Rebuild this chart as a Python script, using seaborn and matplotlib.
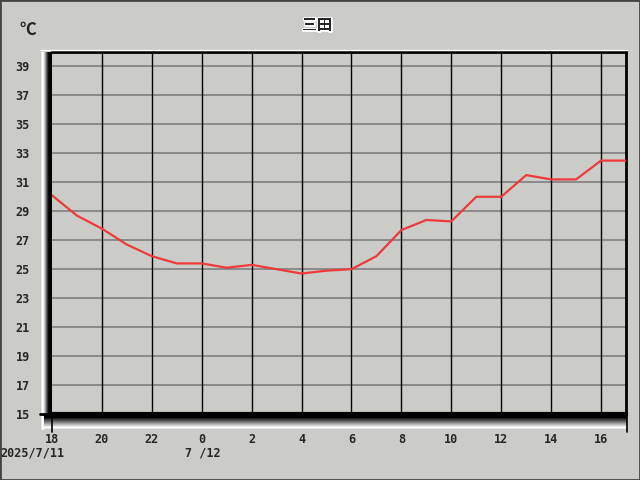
import numpy as np
import pandas as pd
import matplotlib.pyplot as plt
import matplotlib.dates as mdates
import seaborn as sns
from matplotlib.patches import Rectangle
import matplotlib.patheffects as pe

# data (hourly, 2025/7/11 18:00 -> 7/12 17:00)
times = pd.date_range("2025-07-11 18:00", "2025-07-12 17:00", freq="h")
temps = [30.1, 28.7, 27.8, 26.7, 25.9, 25.4, 25.4, 25.1, 25.3, 25.0, 24.7, 24.9,
         25.0, 25.9, 27.7, 28.4, 28.3, 30.0, 30.0, 31.5, 31.2, 31.2, 32.5, 32.5]
yticks = [15, 17, 19, 21, 23, 25, 27, 29, 31, 33, 35, 37, 39]
title = "三田"
unit = "℃"
date_labels = ["2025/7/11", "7 /12"]

df = pd.DataFrame({"time": times, "temp": temps})

sns.set_style("white")
plt.rcParams['font.family'] = ['Noto Sans CJK JP', 'DejaVu Sans']
bg = "#CBCCC8"

W, H = 640, 480
fig = plt.figure(figsize=(6.4, 4.8), dpi=100, facecolor=bg)

def px(x0, y0, x1, y1):
    # pixel box (top-left origin) -> figure fraction rect
    return [x0 / W, 1 - y1 / H, (x1 - x0) / W, (y1 - y0) / H]

# bevel bands left and bottom
left = np.array([0.78, 0.92, 1.0, 0.95, 0.8, 0.6, 0.4, 0.2, 0.05, 0, 0, 0])
bax = fig.add_axes(px(40, 52, 52, 430))
bax.imshow(left[None, :], cmap="gray", vmin=0, vmax=1, aspect="auto",
           interpolation="nearest")
bax.axis("off")
bottom = np.array([0, 0, 0, 0, 0.12, 0.22, 0.32, 0.42, 0.52, 0.62, 0.72, 0.82,
                   0.92, 1.0, 0.9, 0.8])
bbx = fig.add_axes(px(44, 414, 627, 430))
bbx.imshow(bottom[:, None], cmap="gray", vmin=0, vmax=1, aspect="auto",
           interpolation="nearest")
bbx.axis("off")

ax = fig.add_axes(px(52, 52, 626, 414))
ax.set_facecolor(bg)
sns.lineplot(data=df, x="time", y="temp", ax=ax, color="#EE3A3A", linewidth=1.6,
             zorder=5)

ax.set_xlim(times[0], times[-1])
ax.set_ylim(15, 40)

for v in yticks[1:]:
    ax.axhline(v, color="#8a8a8a", linewidth=1.4, zorder=1)
for t in pd.date_range("2025-07-11 20:00", "2025-07-12 16:00", freq="2h"):
    ax.axvline(t, color="black", linewidth=1.0, zorder=2)

ax.set_yticks(yticks)
ax.set_yticklabels([str(v) for v in yticks], fontsize=8.5, fontweight="bold",
                   family="DejaVu Sans Mono")
ax.xaxis.set_major_locator(mdates.HourLocator(byhour=range(0, 24, 2)))
ax.xaxis.set_major_formatter(mdates.DateFormatter("%-H"))
for lab in ax.get_xticklabels():
    lab.set_fontsize(8.5)
    lab.set_fontweight("bold")
    lab.set_family("DejaVu Sans Mono")
ax.tick_params(axis="y", length=0, pad=16)
ax.tick_params(axis="x", length=0, pad=14)
ax.set_xlabel("")
ax.set_ylabel("")

for s in ["top", "right"]:
    ax.spines[s].set_color("black")
    ax.spines[s].set_linewidth(2)
ax.spines["left"].set_visible(False)
ax.spines["bottom"].set_color("black")
ax.spines["bottom"].set_linewidth(3)

# top light edge and tick stubs
fig.add_artist(plt.Line2D([40 / W, 627 / W], [1 - 50 / H] * 2, color="white", lw=1))
fig.add_artist(plt.Line2D([40 / W, 52 / W], [1 - 414 / H] * 2, color="black", lw=2))
fig.add_artist(plt.Line2D([51.5 / W] * 2, [1 - 414 / H, 1 - 432 / H], color="black", lw=1.2))
fig.add_artist(plt.Line2D([626.5 / W] * 2, [1 - 414 / H, 1 - 432 / H], color="black", lw=1.2))

fig.text(317 / W, 1 - 25 / H, title, ha="center", va="center", fontsize=11,
         fontweight="bold",
         path_effects=[pe.withStroke(linewidth=2, foreground="white")])
fig.text(28 / W, 1 - 30 / H, unit, ha="center", va="center", fontsize=12,
         fontweight="bold")
fig.text(0, 1 - 453 / H, date_labels[0], ha="left", va="center", fontsize=8.5,
         fontweight="bold", family="DejaVu Sans Mono")
fig.text(203 / W, 1 - 453 / H, date_labels[1], ha="center", va="center",
         fontsize=8.5, fontweight="bold", family="DejaVu Sans Mono")

fig.add_artist(Rectangle((0, 0), 1, 1, transform=fig.transFigure, fill=False,
                         edgecolor="#444444", linewidth=2))

fig.savefig("out.png", dpi=100, facecolor=bg)
